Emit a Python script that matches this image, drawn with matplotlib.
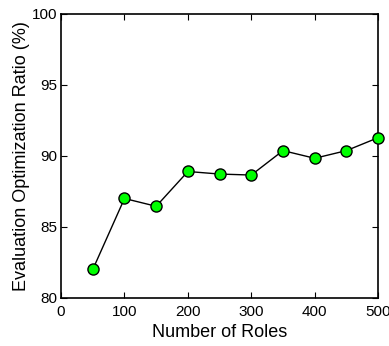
import matplotlib
matplotlib.use("Agg")
import matplotlib.pyplot as plt

roles = [50, 100, 150, 200, 250, 300, 350, 400, 450, 500]
ratio = [82.0, 87.0, 86.45, 88.9, 88.72, 88.65, 90.37, 89.83, 90.37, 91.28]
xticks = [0, 100, 200, 300, 400, 500]
yticks = [80, 85, 90, 95, 100]

plt.rcParams['font.family'] = ['Liberation Sans', 'DejaVu Sans']
fig = plt.figure(figsize=(3.89, 3.46), dpi=100)
ax = fig.add_axes([0.157, 0.139, 0.815, 0.821])
ax.plot(roles, ratio, color='black', linewidth=1.0, marker='o', markersize=8,
        markerfacecolor='#00ff00', markeredgecolor='black', markeredgewidth=1.0,
        clip_on=False, zorder=3)
ax.set_xlim(0, 500)
ax.set_ylim(80, 100)
ax.set_xticks(xticks)
ax.set_yticks(yticks)
ax.tick_params(direction='in', top=True, right=True, labelsize=11, length=4, width=0.8)
ax.tick_params(axis='x', pad=5)
ax.tick_params(axis='y', pad=3)
for s in ax.spines.values():
    s.set_linewidth(1.2)
ax.set_xlabel('Number of Roles', fontsize=13, labelpad=4)
ax.set_ylabel('Evaluation Optimization Ratio (%)', fontsize=13, labelpad=1)
fig.savefig('out.png', dpi=100)
